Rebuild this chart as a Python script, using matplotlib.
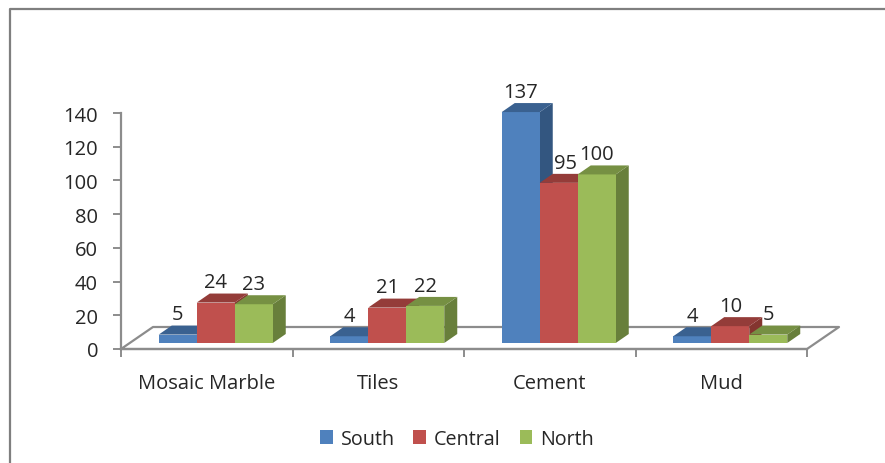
import matplotlib
matplotlib.use("Agg")
import matplotlib.pyplot as plt
from matplotlib.lines import Line2D
from matplotlib.patches import Polygon, Rectangle

categories = ['Mosaic Marble', 'Tiles', 'Cement', 'Mud']
south = [5, 4, 137, 4]
central = [24, 21, 95, 10]
north = [23, 22, 100, 5]
series_names = ['South', 'Central', 'North']
yticks = [0, 20, 40, 60, 80, 100, 120, 140]

plt.rcParams['font.family'] = 'Open Sans'
W, H = 885, 464
grey = '#8c8c8c'
text_col = '#262626'
front = ['#4f81bd', '#c0504d', '#9bbb59']
top = ['#3a6190', '#943c39', '#769043']
side = ['#335680', '#84352f', '#687f3b']

fig = plt.figure(figsize=(W / 100, H / 100), dpi=100)
# outer chart border, only left and top are in the picture
fig.add_artist(Line2D([10 / W, 10 / W, 1], [0, (H - 10) / H, (H - 10) / H], transform=fig.transFigure,
                      color='#7f7f7f', linewidth=1.6))

ax = fig.add_axes([121 / W, (H - 350) / H, 686 / W, 236 / H])
ax.set_xlim(0, 4)
ax.set_ylim(0, 140)
ax.patch.set_alpha(0)

px = 4 / 686      # one pixel in x units
py = 140 / 236    # one pixel in y units
bar_w = 38 * px
dx = 13 * px
dy = 9 * py
base = 6 * py
shift = 9 * px

# floor of the 3d box
fx = 32 * px
fy = 22 * py
ax.plot([0, fx, 4 + fx, 4, 0], [0, fy, fy, 0, 0], color=grey, lw=1.6, clip_on=False, zorder=1)

for i, vals in enumerate([south, central, north]):
    for g, v in enumerate(vals):
        x0 = g + 0.5 + shift + (i - 1.5) * bar_w
        x1 = x0 + bar_w
        y1 = base + v
        ax.add_patch(Rectangle((x0, base), bar_w, v, facecolor=front[i], edgecolor='none', zorder=3 + g * 3 + i * 0.1, clip_on=False))
        ax.add_patch(Polygon([(x0, y1), (x0 + dx, y1 + dy), (x1 + dx, y1 + dy), (x1, y1)],
                             facecolor=top[i], edgecolor='none', zorder=3 + g * 3 + i * 0.1, clip_on=False))
        ax.add_patch(Polygon([(x1, base), (x1 + dx, base + dy), (x1 + dx, y1 + dy), (x1, y1)],
                             facecolor=side[i], edgecolor='none', zorder=2.9 + g * 3 + i * 0.1, clip_on=False))
        # the 95 label sits to the right in the original
        off = 7 if v == 95 else 0
        ax.annotate(str(v), (x0 + bar_w / 2, y1), xytext=(off * 0.72, 14.5), textcoords='offset points',
                    ha='center', va='center', fontsize=14.5, color=text_col, zorder=50, annotation_clip=False)

for s in ['top', 'right']:
    ax.spines[s].set_visible(False)
for s in ['left', 'bottom']:
    ax.spines[s].set_color(grey)
    ax.spines[s].set_linewidth(1.6)

ax.set_yticks(yticks)
ax.set_xticks([0, 1, 2, 3, 4])
ax.set_xticklabels([])
ax.tick_params(axis='both', color=grey, width=1.4, length=5.5, labelsize=14.5, labelcolor=text_col, pad=7)
ax.tick_params(axis='y', pad=11)

for g, c in enumerate(categories):
    ax.annotate(c, (g + 0.5, 0), xytext=(0, -24.5), textcoords='offset points', ha='center', va='center',
                fontsize=14.5, color=text_col, annotation_clip=False)

handles = [Rectangle((0, 0), 1, 1, facecolor=front[i]) for i in range(3)]
fig.legend(handles, series_names, loc='center', bbox_to_anchor=(457 / W, (H - 440) / H), ncol=3, frameon=False,
           fontsize=14.2, labelcolor=text_col, handlelength=0.65, handleheight=0.65, handletextpad=0.4, columnspacing=0.95)

fig.savefig('out.png', dpi=100)
